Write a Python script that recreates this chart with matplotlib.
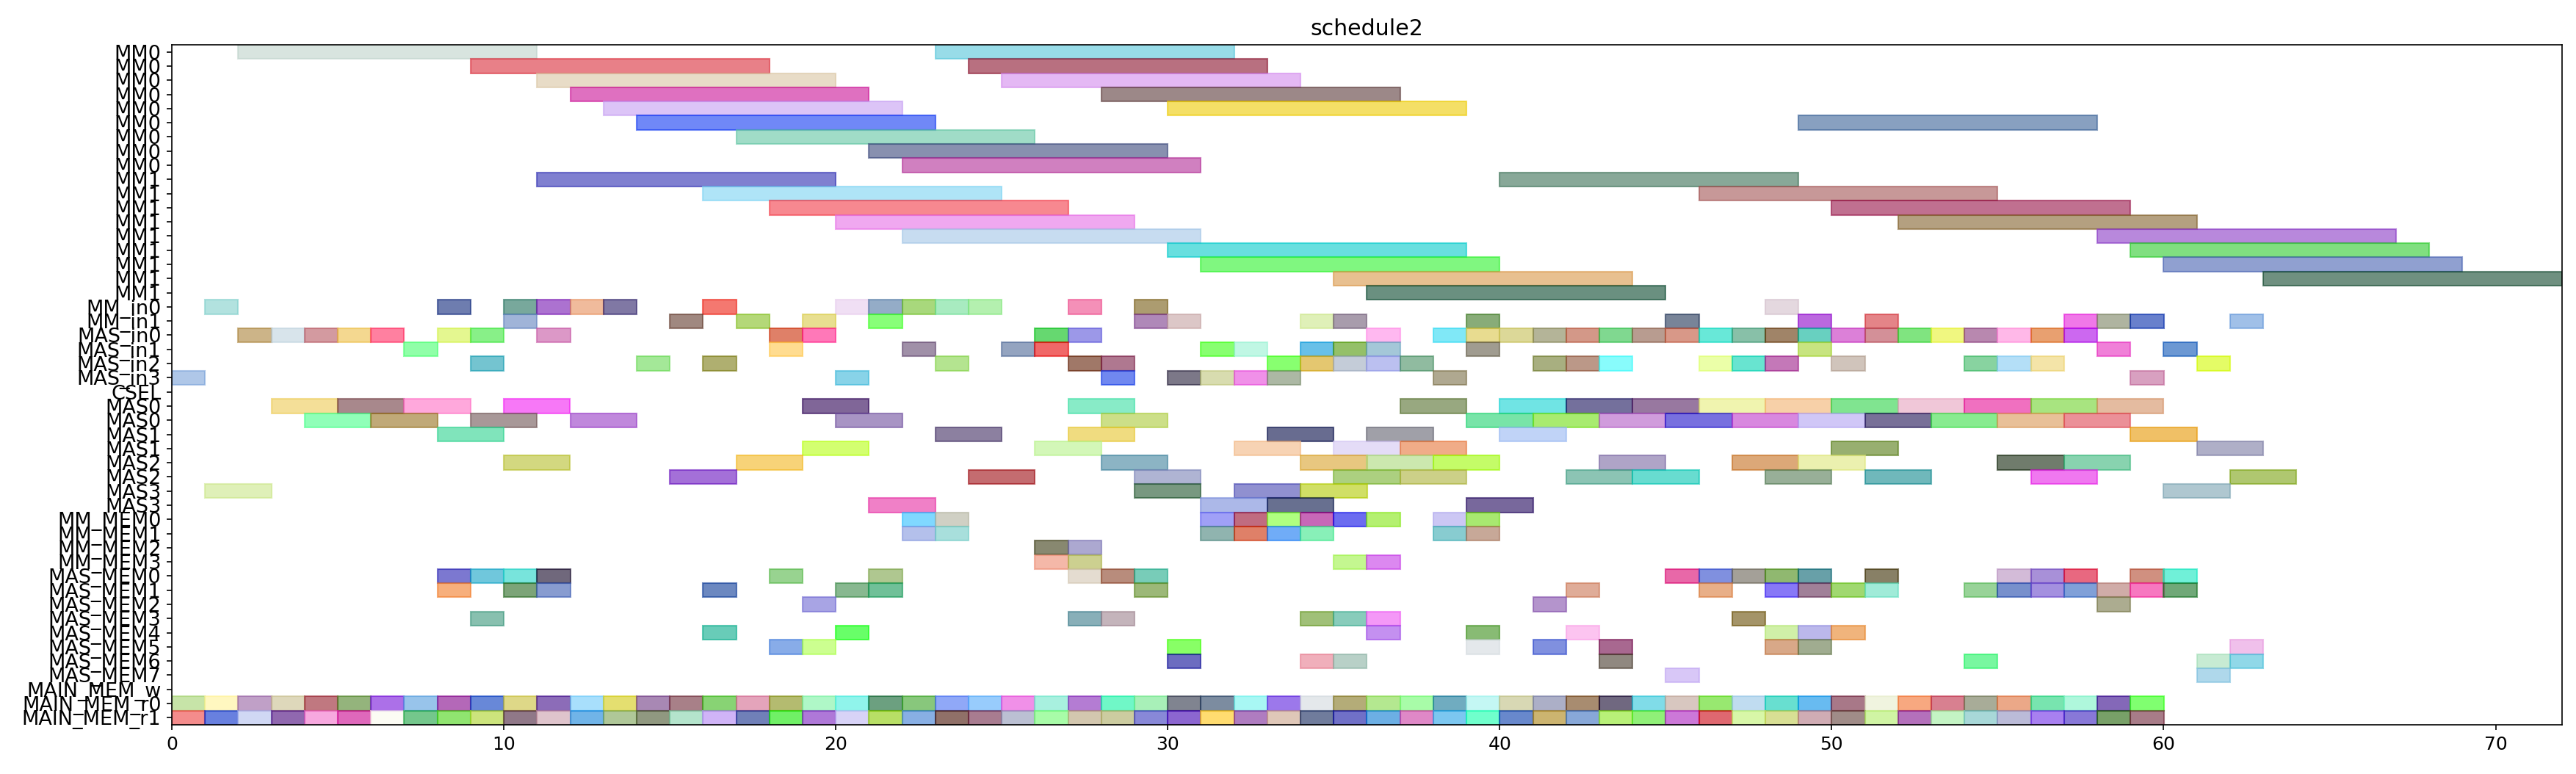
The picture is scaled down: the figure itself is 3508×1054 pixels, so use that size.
import numpy as np
import matplotlib
matplotlib.use('Agg')
import matplotlib.pyplot as plt
from matplotlib.colors import to_rgb

plt.rcParams['font.size'] = 12

ALPHA = 0.6

row_labels = (['MM0'] * 9 + ['MM1'] * 9 +
              ['MM_in0', 'MM_in1', 'MAS_in0', 'MAS_in1', 'MAS_in2', 'MAS_in3', 'CSEL',
               'MAS0', 'MAS0', 'MAS1', 'MAS1', 'MAS2', 'MAS2', 'MAS3', 'MAS3',
               'MM_MEM0', 'MM_MEM1', 'MM_MEM2', 'MM_MEM3',
               'MAS_MEM0', 'MAS_MEM1', 'MAS_MEM2', 'MAS_MEM3',
               'MAS_MEM4', 'MAS_MEM5', 'MAS_MEM6', 'MAS_MEM7',
               'MAIN_MEM_w', 'MAIN_MEM_r0', 'MAIN_MEM_r1'])

# MM0 / MM1 rows: every task lasts 9 cycles
mm_dur = 9
mm_starts = [[2, 23], [9, 24], [11, 25], [12, 28], [13, 30], [14, 49], [17], [21], [22],
             [11, 40], [16, 46], [18, 50], [20, 52], [22, 58], [30, 59], [31, 60], [35, 63], [36]]
mm_colors = [['#d8e4e0', '#98dce8'], ['#e88088', '#b87080'], ['#e8dcc8', '#e4b8f4'],
             ['#e070c0', '#9c8888'], ['#dcc4f8', '#f4e060'], ['#7088f8', '#88a0c0'],
             ['#a0dcc8'], ['#8890b0'], ['#d080c0'],
             ['#8080d0', '#88a898'], ['#b0e4f8', '#c89898'], ['#f88890', '#c07090'],
             ['#f0a8f0', '#b4a080'], ['#c8dcf0', '#b888dc'], ['#68e0e0', '#80e080'],
             ['#80f880', '#90a0d0'], ['#e8c090', '#6f9080'], ['#6a9080']]

# input ports + CSEL: 1 cycle each
io_dur = 1
io_starts = [
    [1, 8, 10, 11, 12, 13, 16, 20, 21, 22, 23, 24, 27, 29, 48],
    [10, 15, 17, 19, 21, 29, 30, 34, 35, 39, 45, 49, 51, 57, 58, 59, 62],
    [2, 3, 4, 5, 6, 8, 9, 11, 18, 19, 26, 27, 36, 38, 39, 40, 41, 42, 43, 44, 45, 46, 47,
     48, 49, 50, 51, 52, 53, 54, 55, 56, 57],
    [7, 18, 22, 25, 26, 31, 32, 34, 35, 36, 39, 49, 58, 60],
    [9, 14, 16, 23, 27, 28, 33, 34, 35, 36, 37, 41, 42, 43, 46, 47, 48, 50, 54, 55, 56, 61],
    [0, 20, 28, 30, 31, 32, 33, 38, 59],
    [],
]
io_colors = [
    ['#b2e2e0', '#6e7db0', '#78a89c', '#ac72d0', '#f0bc9c', '#8078a4', '#f47870', '#f0e0f4',
     '#94acc8', '#a8d87c', '#a8ecc0', '#b4f0b0', '#f490b8', '#ac9c70', '#e4d8e0'],
    ['#a0b4d8', '#a08880', '#b4d878', '#e8e090', '#88ff78', '#b088b8', '#dcc8c8', '#e0f0b8',
     '#a89cac', '#88ac78', '#788498', '#bc68e0', '#e48488', '#f078e8', '#b0b4a0', '#6880cc',
     '#a0c0e8'],
    ['#ccb488', '#d8e4ec', '#d49aa0', '#f4d890', '#ff80a0', '#e4f890', '#88f088', '#dc98c8',
     '#e08068', '#ff78b8', '#60d870', '#9c98e8', '#ffb8f0', '#80e8f8', '#e8dc90', '#dcd898',
     '#b4b498', '#d49888', '#80d890', '#b89c90', '#d89888', '#68e8d8', '#88c0a8', '#a08468',
     '#68d0c0', '#dc80d8', '#d49098', '#80e480', '#f0f880', '#b888b0', '#ffb8e8', '#e8a070',
     '#cc68f0'],
    ['#90ffa8', '#ffdc90', '#a090a8', '#94a4c0', '#f06868', '#88ff70', '#c0f8e4', '#68c0e8',
     '#94c068', '#a4c8d8', '#a09c90', '#c8e480', '#f080d8', '#6c98d4'],
    ['#74c4d0', '#a4e898', '#b0b070', '#b4e490', '#a07868', '#b07890', '#88ff70', '#e4c870',
     '#c4ccd8', '#bcc0f0', '#90bca0', '#a8b080', '#bc9888', '#88fcfc', '#ecffa8', '#68e4d0',
     '#c478b8', '#d0c4bc', '#88d4a0', '#b4e0f8', '#f4e4a8', '#e4fc60'],
    ['#b0c8e8', '#88d4e8', '#7088f0', '#7c7888', '#d8dcb0', '#f090e8', '#acb8a4', '#b0a890',
     '#d8a0c0'],
    [],
]

# MAS units: 2 cycles each
mas_dur = 2
mas_starts = [
    [3, 5, 7, 10, 19, 27, 37, 40, 42, 44, 46, 48, 50, 52, 54, 56, 58],
    [4, 6, 9, 12, 20, 28, 39, 41, 43, 45, 47, 49, 51, 53, 55, 57],
    [8, 23, 27, 33, 36, 40, 59],
    [19, 26, 32, 35, 37, 50, 61],
    [10, 17, 28, 34, 36, 38, 43, 47, 49, 55, 57],
    [15, 24, 29, 35, 37, 42, 44, 48, 51, 56, 62],
    [1, 29, 32, 34, 60],
    [21, 31, 33, 39],
]
mas_colors = [
    ['#f4e098', '#a8888c', '#ffa8dc', '#f878f8', '#806098', '#88ecc8', '#98a880', '#70e4e4',
     '#74709c', '#9878a0', '#f0f4b0', '#f8d0a8', '#80e490', '#f0c8d8', '#f070c0', '#a8e480',
     '#e4bca0'],
    ['#90ffb8', '#c0aa78', '#a89898', '#c088dc', '#a894c4', '#cce088', '#78e4a8', '#a8ec70',
     '#d09cdc', '#7870e0', '#d888e0', '#d0c8f8', '#787098', '#88ec90', '#e8c098', '#ec9098'],
    ['#80e4bc', '#8c80a0', '#f0dc80', '#686c90', '#a0a0a8', '#c0d4f8', '#f0c060'],
    ['#d4ff70', '#d4f8b8', '#f8d4b4', '#e4dcf8', '#f0ac88', '#98b070', '#b0b0c8'],
    ['#d4d880', '#f8d478', '#8cb4c4', '#e8c880', '#cce8b0', '#c4fc68', '#b0a4c8', '#dca878',
     '#ecf0b0', '#707c6c', '#88d4b0'],
    ['#a470d8', '#c46c70', '#b0b4d4', '#acd080', '#ccd088', '#8cc4b4', '#68dcd0', '#98b098',
     '#70b8bc', '#f078f0', '#b0c870'],
    ['#e0f0b8', '#789880', '#9090d0', '#d0e060', '#b0c8d0'],
    ['#f080c8', '#acb8e8', '#687090', '#78689c'],
]

# memories: 1 cycle each
mem_dur = 1
mem_starts = [
    [22, 23, 31, 32, 33, 34, 35, 36, 38, 39],
    [22, 23, 31, 32, 33, 34, 38, 39],
    [26, 27],
    [26, 27, 35, 36],
    [8, 9, 10, 11, 18, 21, 27, 28, 29, 45, 46, 47, 48, 49, 51, 55, 56, 57, 59, 60],
    [8, 10, 11, 16, 20, 21, 29, 42, 46, 48, 49, 50, 51, 54, 55, 56, 57, 58, 59, 60],
    [19, 41, 58],
    [9, 27, 28, 34, 35, 36, 47],
    [16, 20, 36, 39, 42, 48, 49, 50],
    [18, 19, 30, 39, 41, 43, 48, 49, 62],
    [30, 34, 35, 43, 54, 61, 62],
    [45, 61],
    [],
    [0, 1, 2, 3, 4, 5, 6, 7, 8, 9, 10, 11, 12, 13, 14, 15, 16, 17, 18, 19, 20, 21, 22, 23,
     24, 25, 26, 27, 28, 29, 30, 31, 32, 33, 34, 35, 36, 37, 38, 39, 40, 41, 42, 43, 44, 45,
     46, 47, 48, 49, 50, 51, 52, 53, 54, 55, 56, 57, 58, 59],
    [0, 1, 2, 3, 4, 5, 6, 7, 8, 9, 10, 11, 12, 13, 14, 15, 16, 17, 18, 19, 20, 21, 22, 23,
     24, 25, 26, 27, 28, 29, 30, 31, 32, 33, 34, 35, 36, 37, 38, 39, 40, 41, 42, 43, 44, 45,
     46, 47, 48, 49, 50, 51, 52, 53, 54, 55, 56, 57, 58, 59],
]
mem_colors = [
    ['#80d8ff', '#d0d0c4', '#a0a0f8', '#c06c80', '#b0ff80', '#c868b8', '#6c6cf0', '#b4f070',
     '#ccc8f4', '#a8e870'],
    ['#b4c0ec', '#a8e0dc', '#90b4b0', '#e08068', '#70acf8', '#88f0b8', '#88ccd0', '#c8a898'],
    ['#888870', '#aca8d0'],
    ['#f4b8a8', '#ccd090', '#c4f890', '#dc88f0'],
    ['#7c78d0', '#70c8dc', '#78e4dc', '#70687c', '#98d490', '#b0c890', '#e4dcd0', '#b88c7c',
     '#78ccb8', '#e868a8', '#8090e0', '#a4a098', '#90b870', '#68a0a8', '#888060', '#d4bcd8',
     '#a890d8', '#e86880', '#d09080', '#70f0d8'],
    ['#f8b07c', '#7ca478', '#889cd0', '#6c88c0', '#88b890', '#70c098', '#9cb878', '#e0ac98',
     '#e8b088', '#8878f8', '#a08098', '#a0d870', '#a0ecd8', '#98d498', '#7890cc', '#a490e0',
     '#80a0d8', '#d0aca8', '#f878c0', '#70a878'],
    ['#a8a4e4', '#b494cc', '#acac90'],
    ['#88c0b0', '#88b0b8', '#c4b4bc', '#a0c078', '#88ccbc', '#f498f8', '#a49468'],
    ['#68ccb8', '#68ff68', '#c490f0', '#88bc74', '#fcc4f0', '#d0f0a8', '#bcb8ec', '#f0b47c'],
    ['#88ace8', '#ccff90', '#88ff58', '#e4e8ec', '#8090e0', '#a86890', '#d8a888', '#a0ac90',
     '#f0c0ec'],
    ['#6c6cc0', '#f0b0bc', '#b8d0c8', '#908880', '#78f8a0', '#c8ecd4', '#90d8e8'],
    ['#d8c8f8', '#b0d8ec'],
    [],
    ['#c8e4a8', '#fff8c0', '#c0a0c8', '#ded8bc', '#c07880', '#94b47c', '#ac70e8', '#98c4ec',
     '#b468b8', '#6888d8', '#ded888', '#8c6cb8', '#a8e0fc', '#e4e070', '#a888b4', '#a88088',
     '#88d474', '#e4a4bc', '#b4bc70', '#b0f8c8', '#90f4ec', '#6ca080', '#88c87c', '#90a8f8',
     '#98ccfc', '#f090e8', '#a8f0e0', '#b47cd4', '#70f8c8', '#a8f0b8', '#808490', '#7c8ca0',
     '#a8f8f4', '#9c78ec', '#e4e8ec', '#b4ac78', '#b4e890', '#a8fca8', '#70acc0', '#c4f8f4',
     '#d8d8b4', '#acb0c8', '#a88c70', '#706880', '#80dce8', '#d8c8c0', '#98e870', '#c0dcf0',
     '#68e0d0', '#68bcf0', '#a87888', '#f0f4e0', '#f8a880', '#d88090', '#a8ac98', '#eca888',
     '#78e4b0', '#b0f8dc', '#8468b8', '#80ff70'],
    ['#f48c8c', '#6880e0', '#d0d8f4', '#9068b0', '#f8a8e0', '#e068bc', '#fcfcf4', '#74c88c',
     '#90e470', '#cce47c', '#907888', '#e0c4cc', '#70b4e8', '#b0c898', '#909880', '#b4e4cc',
     '#d0b4f8', '#7080b8', '#70f060', '#b078d8', '#d8d4f8', '#b8e060', '#88b0e4', '#907068',
     '#a87c90', '#bcc0d4', '#a8fca8', '#d4c8b0', '#cccca0', '#8888d8', '#8c60d0', '#ffdc70',
     '#b07cc0', '#e0c8b8', '#707c9c', '#7070c8', '#6cb0e4', '#e088c8', '#7cc8f0', '#70ffcc',
     '#6888cc', '#ccb470', '#88a8d8', '#b8f078', '#90f078', '#cc78d8', '#e06870', '#d8f8a8',
     '#d8e094', '#d0acb4', '#a08c88', '#d0f4a4', '#b470bc', '#c4f4c4', '#a8d8d8', '#bcbcd8',
     '#a880f0', '#8878d8', '#78a068', '#a87c88'],
]


def base_color(shown):
    # colours above are as seen on white; undo the alpha blend
    rgb = np.array(to_rgb(shown))
    return tuple(np.clip(1 - (1 - rgb) / ALPHA, 0, 1))


def draw_group(ax, first_row, starts, colors, dur):
    for i, (row_s, row_c) in enumerate(zip(starts, colors)):
        for s, c in zip(row_s, row_c):
            bc = base_color(c)
            ax.barh(first_row + i, dur, left=s, height=1, color=bc,
                    edgecolor=bc, alpha=ALPHA, linewidth=1)


fig, ax = plt.subplots(figsize=(3508 / 150, 1054 / 150), dpi=150)
fig.subplots_adjust(left=234 / 3508, right=3489 / 3508, bottom=67 / 1054, top=993 / 1054)

draw_group(ax, 0, mm_starts, mm_colors, mm_dur)
draw_group(ax, 18, io_starts, io_colors, io_dur)
draw_group(ax, 25, mas_starts, mas_colors, mas_dur)
draw_group(ax, 33, mem_starts, mem_colors, mem_dur)

ax.set_yticks(range(len(row_labels)))
ax.set_yticklabels(row_labels, fontsize=13)
ax.set_ylim(len(row_labels) - 0.5, -0.5)
ax.set_xlim(0, 72)
ax.set_title('schedule2')

plt.savefig('out.png', dpi=150)
plt.close()
